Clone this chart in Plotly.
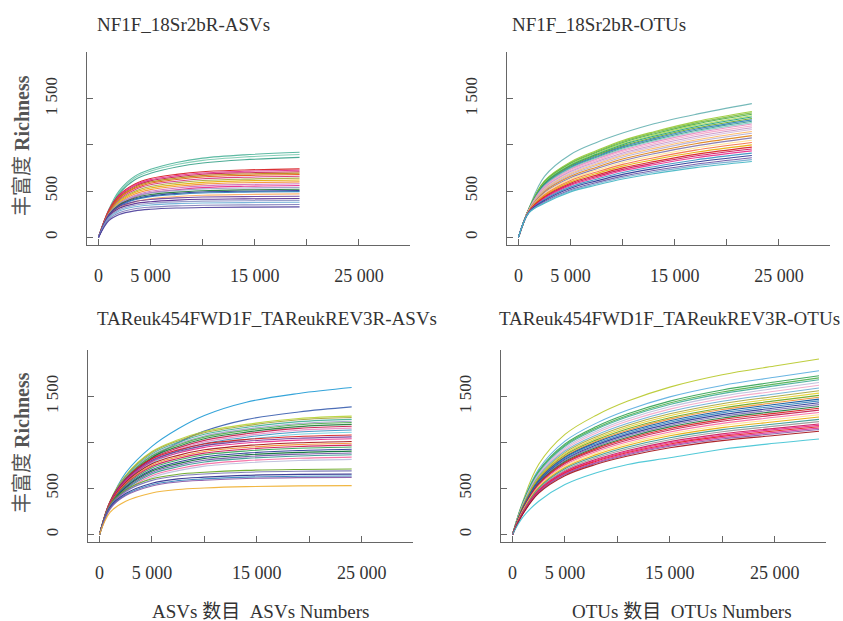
import plotly.graph_objects as go

# ---------------- data ----------------
titles = ["NF1F_18Sr2bR-ASVs", "NF1F_18Sr2bR-OTUs",
          "TAReuk454FWD1F_TAReukREV3R-ASVs", "TAReuk454FWD1F_TAReukREV3R-OTUs"]

x_tick_vals = [0, 5000, 10000, 15000, 20000, 25000]
x_tick_text = ["0", "5 000", "", "15 000", "", "25 000"]
y_tick_vals = [0, 500, 1000, 1500, 2000]
y_tick_text = ["0", "500", "", "1 500", ""]

y_title = "丰富度 <b>Richness</b>"
x_title_asv = "ASVs 数目  ASVs Numbers"
x_title_otu = "OTUs 数目  OTUs Numbers"

# panel 1: NF1F_18Sr2bR-ASVs
depth1 = [0, 1000, 2000, 3500, 5000, 7500, 10000, 14000, 19300]
curves1 = [
    [0, 304, 506, 662, 736, 810, 856, 892, 920],
    [0, 295, 492, 644, 716, 788, 832, 868, 895],
    [0, 285, 476, 623, 692, 761, 804, 839, 865],
    [0, 296, 459, 577, 636, 681, 710, 729, 740],
    [0, 290, 450, 566, 624, 667, 696, 714, 725],
    [0, 284, 440, 554, 611, 653, 682, 699, 710],
    [0, 278, 431, 542, 598, 639, 667, 685, 695],
    [0, 272, 422, 530, 585, 626, 653, 670, 680],
    [0, 264, 409, 515, 568, 607, 634, 650, 660],
    [0, 256, 397, 499, 550, 589, 614, 630, 640],
    [0, 248, 384, 484, 533, 570, 595, 611, 620],
    [0, 240, 372, 468, 516, 552, 576, 591, 600],
    [0, 232, 360, 452, 499, 534, 557, 571, 580],
    [0, 224, 347, 437, 482, 515, 538, 552, 560],
    [0, 254, 367, 443, 481, 508, 524, 534, 540],
    [0, 244, 354, 426, 463, 489, 504, 514, 520],
    [0, 237, 343, 414, 449, 475, 490, 499, 505],
    [0, 233, 337, 406, 441, 465, 480, 489, 495],
    [0, 221, 320, 385, 418, 442, 456, 464, 470],
    [0, 245, 334, 387, 409, 427, 436, 441, 445],
    [0, 231, 315, 365, 386, 403, 412, 416, 420],
    [0, 220, 300, 348, 368, 384, 392, 396, 400],
    [0, 209, 285, 331, 350, 365, 372, 376, 380],
    [0, 195, 266, 309, 327, 341, 348, 351, 355],
    [0, 182, 248, 287, 304, 317, 323, 327, 330],
]
colors1 = ["#4db39a", "#7acbb0", "#3aa38a", "#d7191c", "#e7298a", "#c51b4c",
           "#b8860b", "#e6550d", "#d62f7a", "#a6a63a", "#e6ab02", "#f28e2b",
           "#ce6dbd", "#e7298a", "#9e9ac8", "#1b7837", "#253494", "#2c7fb8",
           "#fdae61", "#6a3d9a", "#54278f", "#8c96c6", "#6baed6", "#807dba",
           "#4a3c9a"]

# panel 2: NF1F_18Sr2bR-OTUs
depth2 = [0, 1000, 2500, 5000, 7500, 10000, 13000, 17000, 22400]
curves2 = [
    [0, 315, 660, 896, 1026, 1127, 1228, 1329, 1445],
    [0, 309, 612, 816, 938, 1047, 1142, 1251, 1360],
    [0, 308, 605, 807, 928, 1036, 1130, 1237, 1345],
    [0, 306, 599, 798, 918, 1024, 1117, 1224, 1330],
    [0, 305, 592, 789, 907, 1013, 1105, 1210, 1315],
    [0, 304, 585, 780, 897, 1001, 1092, 1196, 1300],
    [0, 303, 578, 771, 887, 989, 1079, 1182, 1285],
    [0, 302, 572, 762, 876, 978, 1067, 1168, 1270],
    [0, 300, 565, 753, 866, 966, 1054, 1155, 1255],
    [0, 299, 558, 744, 856, 955, 1042, 1141, 1240],
    [0, 298, 551, 735, 845, 943, 1029, 1127, 1225],
    [0, 296, 542, 723, 831, 928, 1012, 1109, 1205],
    [0, 295, 533, 711, 818, 912, 995, 1090, 1185],
    [0, 293, 524, 699, 804, 897, 979, 1072, 1165],
    [0, 292, 515, 687, 790, 882, 962, 1053, 1145],
    [0, 290, 506, 675, 776, 866, 945, 1035, 1125],
    [0, 288, 495, 660, 759, 847, 924, 1012, 1100],
    [0, 286, 484, 645, 742, 828, 903, 989, 1075],
    [0, 284, 473, 630, 725, 809, 882, 966, 1050],
    [0, 282, 461, 615, 707, 789, 861, 943, 1025],
    [0, 280, 450, 600, 690, 770, 840, 920, 1000],
    [0, 278, 439, 585, 673, 751, 819, 897, 975],
    [0, 276, 430, 573, 659, 735, 802, 879, 955],
    [0, 275, 421, 561, 645, 720, 785, 860, 935],
    [0, 273, 410, 546, 628, 701, 764, 837, 910],
    [0, 271, 398, 531, 611, 681, 743, 814, 885],
    [0, 269, 387, 516, 593, 662, 722, 791, 860],
    [0, 267, 378, 504, 580, 647, 706, 773, 840],
    [0, 266, 369, 492, 566, 631, 689, 754, 820],
]
colors2 = ["#66b2b2", "#9acd32", "#7fbc41", "#4daf4a", "#a6d854", "#1b9e77",
           "#66a61e", "#2c7fb8", "#35978f", "#80cdc1", "#e78ac3", "#f4a6c8",
           "#c994c7", "#d4b9da", "#fdb863", "#b2abd2", "#e08214", "#8073ac",
           "#fee08b", "#f46d43", "#e6ab02", "#d7191c", "#ce1256", "#e7298a",
           "#3690c0", "#253494", "#6a51a3", "#74a9cf", "#41b6c4"]

# panel 3: TAReuk454FWD1F_TAReukREV3R-ASVs
depth3 = [0, 1000, 2500, 5000, 7500, 10000, 14000, 19000, 24050]
curves3 = [
    [0, 351, 670, 957, 1148, 1292, 1436, 1531, 1595],
    [0, 305, 582, 831, 997, 1122, 1247, 1330, 1385],
    [0, 360, 643, 900, 1028, 1118, 1195, 1259, 1285],
    [0, 356, 635, 889, 1016, 1105, 1181, 1245, 1270],
    [0, 350, 625, 875, 1000, 1088, 1163, 1225, 1250],
    [0, 344, 615, 861, 984, 1070, 1144, 1205, 1230],
    [0, 340, 608, 851, 972, 1057, 1130, 1191, 1215],
    [0, 335, 598, 837, 956, 1040, 1111, 1171, 1195],
    [0, 329, 588, 823, 940, 1022, 1093, 1152, 1175],
    [0, 323, 578, 809, 924, 1005, 1074, 1132, 1155],
    [0, 318, 568, 795, 908, 987, 1056, 1112, 1135],
    [0, 311, 555, 777, 888, 966, 1032, 1088, 1110],
    [0, 356, 605, 821, 918, 983, 1031, 1064, 1080],
    [0, 350, 594, 806, 901, 965, 1012, 1044, 1060],
    [0, 343, 582, 790, 884, 946, 993, 1024, 1040],
    [0, 333, 566, 768, 859, 919, 965, 995, 1010],
    [0, 327, 554, 752, 842, 901, 945, 975, 990],
    [0, 320, 543, 737, 825, 883, 926, 955, 970],
    [0, 314, 532, 722, 808, 865, 907, 936, 950],
    [0, 305, 518, 703, 786, 842, 883, 911, 925],
    [0, 299, 507, 688, 769, 824, 864, 891, 905],
    [0, 292, 496, 673, 752, 805, 845, 872, 885],
    [0, 285, 484, 657, 735, 787, 826, 852, 865],
    [0, 277, 470, 638, 714, 764, 802, 827, 840],
    [0, 269, 456, 619, 693, 742, 778, 803, 815],
    [0, 320, 483, 604, 653, 675, 696, 706, 710],
    [0, 311, 469, 587, 635, 656, 676, 687, 690],
    [0, 295, 445, 557, 603, 622, 642, 652, 655],
    [0, 286, 432, 540, 584, 603, 622, 632, 635],
    [0, 279, 422, 527, 570, 589, 608, 617, 620],
    [0, 239, 360, 451, 488, 504, 519, 527, 530],
]
colors3 = ["#1f9bd6", "#3a5fb0", "#b8d432", "#a6a63a", "#41ae96", "#9e9ac8",
           "#4daf4a", "#1b7837", "#c51b4c", "#e78ac3", "#3690c0", "#6fd0e0",
           "#d7191c", "#7b3294", "#e7298a", "#a50f15", "#f28e2b", "#ce1256",
           "#31a354", "#253494", "#006d2c", "#6a51a3", "#35978f", "#f768a1",
           "#bcbddc", "#66a61e", "#7570b3", "#2c2c8c", "#3182bd", "#8856a7",
           "#f0b030"]

# panel 4: TAReuk454FWD1F_TAReukREV3R-OTUs
depth4 = [0, 1000, 2500, 5000, 8000, 11000, 15000, 20000, 25000, 29230]
curves4 = [
    [0, 365, 762, 1086, 1295, 1448, 1600, 1734, 1829, 1905],
    [0, 356, 711, 1013, 1209, 1351, 1494, 1618, 1707, 1778],
    [0, 345, 690, 983, 1172, 1310, 1448, 1569, 1655, 1724],
    [0, 340, 680, 969, 1156, 1292, 1428, 1547, 1632, 1700],
    [0, 336, 672, 958, 1142, 1277, 1411, 1529, 1613, 1680],
    [0, 330, 660, 941, 1122, 1254, 1386, 1502, 1584, 1650],
    [0, 324, 648, 923, 1102, 1231, 1361, 1474, 1555, 1620],
    [0, 318, 636, 906, 1081, 1208, 1336, 1447, 1526, 1590],
    [0, 312, 624, 889, 1061, 1186, 1310, 1420, 1498, 1560],
    [0, 307, 614, 875, 1044, 1167, 1289, 1397, 1474, 1535],
    [0, 302, 604, 861, 1027, 1148, 1268, 1374, 1450, 1510],
    [0, 298, 596, 849, 1013, 1132, 1252, 1356, 1430, 1490],
    [0, 294, 588, 838, 1000, 1117, 1235, 1338, 1411, 1470],
    [0, 290, 580, 827, 986, 1102, 1218, 1320, 1392, 1450],
    [0, 286, 572, 815, 972, 1087, 1201, 1301, 1373, 1430],
    [0, 282, 564, 804, 959, 1072, 1184, 1283, 1354, 1410],
    [0, 278, 556, 792, 945, 1056, 1168, 1265, 1334, 1390],
    [0, 274, 548, 781, 932, 1041, 1151, 1247, 1315, 1370],
    [0, 270, 540, 770, 918, 1026, 1134, 1229, 1296, 1350],
    [0, 265, 530, 755, 901, 1007, 1113, 1206, 1272, 1325],
    [0, 260, 520, 741, 884, 988, 1092, 1183, 1248, 1300],
    [0, 255, 510, 727, 867, 969, 1071, 1160, 1224, 1275],
    [0, 250, 500, 713, 850, 950, 1050, 1138, 1200, 1250],
    [0, 245, 490, 698, 833, 931, 1029, 1115, 1176, 1225],
    [0, 240, 480, 684, 816, 912, 1008, 1092, 1152, 1200],
    [0, 237, 474, 675, 806, 901, 995, 1078, 1138, 1185],
    [0, 234, 468, 667, 796, 889, 983, 1065, 1123, 1170],
    [0, 231, 462, 658, 785, 878, 970, 1051, 1109, 1155],
    [0, 228, 456, 650, 775, 866, 958, 1037, 1094, 1140],
    [0, 224, 448, 638, 762, 851, 941, 1019, 1075, 1120],
    [0, 190, 360, 542, 670, 760, 832, 925, 990, 1037],
]
colors4 = ["#b8c92a", "#5aaee0", "#31a354", "#4daf4a", "#41ae96", "#bcbddc",
           "#f4a6c8", "#6baed6", "#a6a63a", "#e6d02a", "#66a61e", "#f28e2b",
           "#08519c", "#3182bd", "#253494", "#756bb1", "#1b7837", "#d7191c",
           "#c51b4c", "#f768a1", "#fee08b", "#e6ab02", "#35978f", "#969696",
           "#ce1256", "#e7298a", "#e31a1c", "#dd3497", "#8856a7", "#a50f15",
           "#41c4d4"]

# ---------------- figure ----------------
W, H = 843, 621
SERIF = "Liberation Serif, Times New Roman, Noto Sans CJK SC, serif"

# pixel boxes: (left, right, top, bottom)
boxes = [(87, 410, 52, 245), (507, 830, 52, 245),
         (88, 413, 350, 542), (501, 826, 350, 542)]
panels = [(depth1, curves1, colors1), (depth2, curves2, colors2),
          (depth3, curves3, colors3), (depth4, curves4, colors4)]

fig = go.Figure()
layout = dict(width=W, height=H, margin=dict(l=0, r=0, t=0, b=0),
              paper_bgcolor="white", plot_bgcolor="white", showlegend=False)

for i, ((depth, curves, cols), box) in enumerate(zip(panels, boxes)):
    n = i + 1
    xa = "x" if n == 1 else f"x{n}"
    ya = "y" if n == 1 else f"y{n}"
    for c, col in zip(curves, cols):
        fig.add_trace(go.Scatter(x=depth, y=c, mode="lines", xaxis=xa, yaxis=ya,
                                 line=dict(color=col, width=1.1, shape="spline"),
                                 opacity=0.9, hoverinfo="skip"))
    l, r, t, b = box
    axis_common = dict(showline=True, linecolor="#666", linewidth=1,
                       ticks="inside", tickcolor="#666", ticklen=6,
                       showgrid=False, zeroline=False)
    layout[f"xaxis{'' if n == 1 else n}"] = dict(
        axis_common, domain=[l / W, r / W], anchor=ya, range=[-1100, 29900],
        tickvals=x_tick_vals, ticktext=x_tick_text, ticklabelstandoff=14,
        tickfont=dict(family=SERIF, size=18, color="#333"))
    layout[f"yaxis{'' if n == 1 else n}"] = dict(
        axis_common, domain=[1 - b / H, 1 - t / H], anchor=xa, range=[-82, 2003],
        tickvals=y_tick_vals, ticktext=y_tick_text, tickangle=-90,
        ticklabelstandoff=22,
        tickfont=dict(family=SERIF, size=17, color="#333"))

fig.update_layout(**layout)

ann = []
title_pos = [(95, 25), (510, 25), (95, 318), (497, 318)]
for tt, (px, py) in zip(titles, title_pos):
    ann.append(dict(text=tt, x=px / W, y=1 - py / H, xref="paper", yref="paper",
                    xanchor="left", yanchor="middle", showarrow=False,
                    font=dict(family=SERIF, size=19, color="#333")))
for py in (146, 443):
    ann.append(dict(text=y_title, x=22 / W, y=1 - py / H, xref="paper", yref="paper",
                    xanchor="center", yanchor="middle", textangle=-90, showarrow=False,
                    font=dict(family=SERIF, size=20, color="#555")))
ann.append(dict(text=x_title_asv, x=260 / W, y=1 - 611 / H, xref="paper", yref="paper",
                xanchor="center", yanchor="middle", showarrow=False,
                font=dict(family=SERIF, size=19, color="#333")))
ann.append(dict(text=x_title_otu, x=682 / W, y=1 - 611 / H, xref="paper", yref="paper",
                xanchor="center", yanchor="middle", showarrow=False,
                font=dict(family=SERIF, size=19, color="#333")))
fig.update_layout(annotations=ann)

fig.write_html("out.html", config={"displayModeBar": False},
               post_script="document.body.style.margin='0';document.body.style.overflow='hidden';")
